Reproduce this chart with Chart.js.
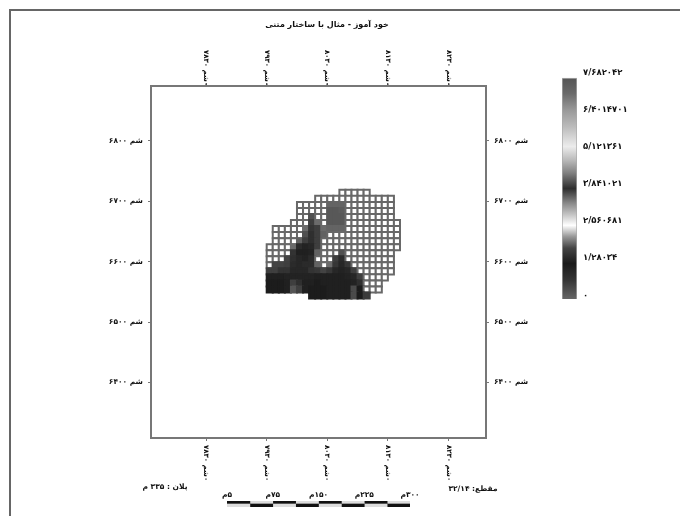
<!DOCTYPE html>
<html lang="fa">
<head>
  <meta charset="UTF-8">
  <title>خود آموز - مثال با ساختار متنی</title>
  <script src="https://cdn.jsdelivr.net/npm/chart.js"></script>
  <style>
    html, body { margin: 0; background: #fff; overflow: hidden; }
    #page { position: relative; width: 680px; height: 516px; }
    #frame { position: absolute; left: 9px; top: 9px; right: 0; bottom: 0; border-top: 2px solid #666; border-left: 2px solid #666; }
    canvas { position: absolute; filter: blur(0.5px); }
  </style>
</head>
<body>
  <div id="page">
    <div id="frame"></div>
    <canvas id="map" width="680" height="516" style="left:0;top:0"></canvas>
    <canvas id="bar" width="130" height="250" style="left:540px;top:60px"></canvas>
    <canvas id="scalebar" width="260" height="26" style="left:190px;top:484px"></canvas>
  </div>

  <script>
    const titleText = 'خود آموز - مثال با ساختار متنی';
    const planText = 'پلان : ۳۳۵ م';
    const sectionText = 'مقطع: ۳۲/۱۴';

    const eastTicks = [7830, 7930, 8030, 8130, 8230];
    const eastLabels = ['۷۸۳۰', '۷۹۳۰', '۸۰۳۰', '۸۱۳۰', '۸۲۳۰'];
    const northTicks = [6400, 6500, 6600, 6700, 6800];
    const northLabels = ['شم ۶۴۰۰', 'شم ۶۵۰۰', 'شم ۶۶۰۰', 'شم ۶۷۰۰', 'شم ۶۸۰۰'];

    const barTicks = [0, 1.28034, 2.560681, 3.841021, 5.121361, 6.401701, 7.682042];
    const barLabels = ['۰', '۱/۲۸۰۳۴', '۲/۵۶۰۶۸۱', '۳/۸۴۱۰۲۱', '۵/۱۲۱۳۶۱', '۶/۴۰۱۴۷۰۱', '۷/۶۸۲۰۴۲'];
    const rampStops = [0, 0.07, 0.146, 0.22, 0.31, 0.37, 0.43, 0.5, 0.566, 0.625, 0.667, 0.717, 0.77, 0.84, 0.91, 1];
    const rampGrays = [85, 106, 153, 187, 236, 187, 128, 46, 136, 204, 255, 153, 68, 26, 51, 102];

    const scaleTicks = [0, 75, 150, 225, 300];
    const scaleLabels = ['۵م', '۷۵م', '۱۵۰م', '۲۲۵م', '۳۰۰م'];
    const scaleSegments = [37.5, 37.5, 37.5, 37.5, 37.5, 37.5, 37.5, 37.5];

    // grid: cells 10 units wide, first column at easting 7930, first row centre at northing 6714
    const W = 2.56;
    const rowStart = [12, 8, 5, 5, 5, 4, 1, 1, 1, 0, 0, 0, 0, 0, 0, 0, 0, 7];
    const row0 = [W, W, W, W, W];
    const row1 = [W, W, W, W, W, W, W, W, W, W, W, W, W];
    const row2 = [W, W, W, W, W, 7.3, 7.3, 7.3, W, W, W, W, W, W, W, W];
    const row3 = [W, W, W, W, W, 7.6, 7.6, 7.5, W, W, W, W, W, W, W, W];
    const row4 = [W, W, 3.65, W, W, 7.6, 7.6, 7.6, W, W, W, W, W, W, W, W];
    const row5 = [W, W, W, 3.75, 3.5, W, 7.6, 7.6, 7.6, W, W, W, W, W, W, W, W, W];
    const row6 = [W, W, W, W, W, 3.5, 3.8, 3.75, 3.5, 7.3, 7.3, 7.3, W, W, W, W, W, W, W, W, W];
    const row7 = [W, W, W, W, W, 3.65, 3.85, 3.75, 3.55, W, W, W, W, W, W, W, W, W, W, W, W];
    const row8 = [W, W, W, W, 3.55, 3.75, 3.85, 3.75, W, W, W, W, W, W, W, W, W, W, W, W, W];
    const row9 = [W, W, W, W, 3.5, 1.45, 1.35, 1.4, 3.75, W, W, W, W, W, W, W, W, W, W, W, W, W];
    const row10 = [W, W, W, W, 1.55, 1.3, 1.3, 1.35, 3.55, W, W, W, 3.65, W, W, W, W, W, W, W, W];
    const row11 = [W, W, W, 1.75, 1.5, 1.4, 1.35, 1.45, W, W, W, 3.75, 1.45, W, W, W, W, W, W, W, W];
    const row12 = [W, 1.75, 1.75, 1.7, 1.45, 1.4, 1.45, 1.45, 3.55, W, 3.5, 1.6, 1.4, 1.6, W, W, W, W, W, W, W];
    const row13 = [1.7, 1.7, 1.55, 1.55, 1.4, 1.4, 1.4, 1.55, 1.6, 1.75, 1.6, 1.4, 1.35, 1.4, 1.7, W, W, W, W, W, W];
    const row14 = [1.3, 1.3, 1.3, 1.35, 1.35, 1.35, 1.35, 1.35, 1.3, 1.3, 1.3, 1.3, 1.3, 1.35, 1.4, 1.7, W, W, W, W];
    const row15 = [1.25, 1.25, 1.25, 1.3, 1.7, 1.5, 1.3, 1.3, 1.25, 1.3, 1.3, 1.3, 1.3, 1.3, 1.35, 1.5, W, W, W];
    const row16 = [1.25, 1.25, 1.25, 1.3, 1.85, 1.7, 1.3, 1.25, 1.25, 1.25, 1.3, 1.3, 1.3, 1.3, 1.8, 1.25, W, W, W];
    const row17 = [1.25, 1.25, 1.25, 1.3, 1.3, 1.3, 1.3, 1.8, 1.25, 1.65];
    const cellRows = [row0, row1, row2, row3, row4, row5, row6, row7, row8, row9, row10, row11, row12, row13, row14, row15, row16, row17];

    const fontFamily = '"DejaVu Sans"';
    const textColor = '#111';
    const axisColor = '#777';

    function grayLevel(value) {
      const t = 1 - value / barTicks[barTicks.length - 1];
      let i = 0;
      while (i < rampStops.length - 2 && t > rampStops[i + 1]) i++;
      const f = (t - rampStops[i]) / (rampStops[i + 1] - rampStops[i]);
      return Math.round(rampGrays[i] + (rampGrays[i + 1] - rampGrays[i]) * f);
    }

    function grayFor(value) {
      const g = grayLevel(value);
      return `rgb(${g},${g},${g})`;
    }

    const cells = [];
    cellRows.forEach((values, r) => {
      values.forEach((value, i) => {
        cells.push({ x: 7935 + (rowStart[r] + i) * 10, y: 6714 - r * 10, v: value });
      });
    });

    function cellBorder(value) {
      // grid lines stay mid gray over white cells and sink into the dark ones
      const g = grayLevel(value);
      return g > 200 ? '#686868' : grayFor(value);
    }

    function rtl(text) {
      return '\u202B' + text + '\u202C';
    }

    function fixedTicks(values) {
      return scale => { scale.ticks = values.map(value => ({ value })); };
    }

    function mapAxis(position, ticks, range, size, labels) {
      const horizontal = position === 'top' || position === 'bottom';
      return {
        type: 'linear',
        position,
        min: range[0],
        max: range[1],
        afterBuildTicks: fixedTicks(ticks),
        afterFit: scale => { if (horizontal) scale.height = size; else scale.width = size; },
        border: { display: true, color: axisColor, width: 2 },
        grid: { drawOnChartArea: false, color: axisColor, tickLength: 3, lineWidth: 1 },
        ticks: labels ? {
          display: true,
          padding: 5,
          color: textColor,
          font: { family: fontFamily, size: 7.5, weight: 'bold' },
          callback: value => rtl(labels[ticks.indexOf(value)])
        } : { display: false }
      };
    }

    const xRange = [7739, 8292];
    const yRange = [6308, 6891];

    // turned labels on the east axes and the loose captions around the map
    const mapNotes = {
      id: 'mapNotes',
      afterDraw(chart) {
        const ctx = chart.ctx;
        ctx.save();
        ctx.fillStyle = textColor;
        ctx.textBaseline = 'middle';

        ctx.font = `bold 7px ${fontFamily}`;
        ['x', 'x2'].forEach(id => {
          const scale = chart.scales[id];
          const start = id === 'x' ? 445 : 50;
          eastTicks.forEach((tick, i) => {
            ctx.save();
            ctx.translate(scale.getPixelForValue(tick), start);
            ctx.rotate(Math.PI / 2);
            ctx.textAlign = 'left';
            ctx.fillText(rtl('۰شم ' + eastLabels[i]), 0, 0);
            ctx.restore();
          });
        });

        ctx.textAlign = 'center';
        ctx.font = `bold 8px ${fontFamily}`;
        ctx.fillText(rtl(titleText), 327, 25);
        ctx.font = `bold 7.5px ${fontFamily}`;
        ctx.fillText(rtl(planText), 165, 487);
        ctx.fillText(rtl(sectionText), 473, 489);
        ctx.restore();
      }
    };

    new Chart(document.getElementById('map'), {
      type: 'scatter',
      data: {
        datasets: [{
          data: cells,
          pointStyle: 'rect',
          pointRadius: 4.3,
          pointBorderWidth: 2,
          pointBorderColor: cells.map(c => cellBorder(c.v)),
          pointBackgroundColor: cells.map(c => grayFor(c.v))
        }]
      },
      options: {
        responsive: false,
        animation: false,
        layout: { padding: 0 },
        plugins: { legend: { display: false }, tooltip: { enabled: false } },
        scales: {
          x: mapAxis('bottom', eastTicks, xRange, 78),
          x2: mapAxis('top', eastTicks, xRange, 86),
          y: mapAxis('left', northTicks, yRange, 151, northLabels),
          y2: mapAxis('right', northTicks, yRange, 194, northLabels)
        }
      },
      plugins: [mapNotes]
    });

    // legend ramp
    new Chart(document.getElementById('bar'), {
      type: 'bar',
      data: {
        labels: ['ramp'],
        datasets: [{
          data: [[-0.12, 7.49]],
          barPercentage: 1,
          categoryPercentage: 1,
          borderWidth: 1,
          borderColor: '#aaa',
          backgroundColor(context) {
            const { chart } = context;
            if (!chart.chartArea) return '#888';
            const yScale = chart.scales.y;
            const gradient = chart.ctx.createLinearGradient(0, yScale.getPixelForValue(7.49), 0, yScale.getPixelForValue(-0.12));
            rampStops.forEach((stop, i) => {
              const g = rampGrays[i];
              gradient.addColorStop(stop, `rgb(${g},${g},${g})`);
            });
            return gradient;
          }
        }]
      },
      options: {
        responsive: false,
        animation: false,
        layout: { padding: { left: 22, top: 12.5, bottom: 11, right: 0 } },
        plugins: { legend: { display: false }, tooltip: { enabled: false } },
        scales: {
          x: { display: false },
          y: {
            position: 'right',
            min: -0.12,
            max: 7.682042,
            afterBuildTicks: fixedTicks(barTicks),
            afterFit: scale => { scale.width = 93; },
            border: { display: false },
            grid: { display: false, drawTicks: false },
            ticks: {
              padding: 6,
              color: textColor,
              font: { family: fontFamily, size: 8.5, weight: 'bold' },
              callback: value => barLabels[barTicks.indexOf(value)]
            }
          }
        }
      }
    });

    // distance bar under the map
    new Chart(document.getElementById('scalebar'), {
      type: 'bar',
      data: {
        labels: ['upper', 'lower'],
        datasets: scaleSegments.map((length, i) => ({
          data: [length, length],
          barPercentage: 1,
          categoryPercentage: 1,
          backgroundColor: i % 2 ? ['#ddd', '#111'] : ['#111', '#ddd']
        }))
      },
      options: {
        indexAxis: 'y',
        responsive: false,
        animation: false,
        layout: { padding: { left: 37, right: 40, top: 0, bottom: 3 } },
        plugins: { legend: { display: false }, tooltip: { enabled: false } },
        scales: {
          y: { display: false, stacked: true },
          x: {
            position: 'top',
            stacked: true,
            min: 0,
            max: 300,
            afterBuildTicks: fixedTicks(scaleTicks),
            afterFit: scale => { scale.height = 17; },
            border: { display: false },
            grid: { display: false, drawTicks: false },
            ticks: {
              padding: 1,
              maxRotation: 0,
              autoSkip: false,
              color: textColor,
              font: { family: fontFamily, size: 7.5, weight: 'bold' },
              callback: value => rtl(scaleLabels[scaleTicks.indexOf(value)])
            }
          }
        }
      }
    });
  </script>
</body>
</html>
